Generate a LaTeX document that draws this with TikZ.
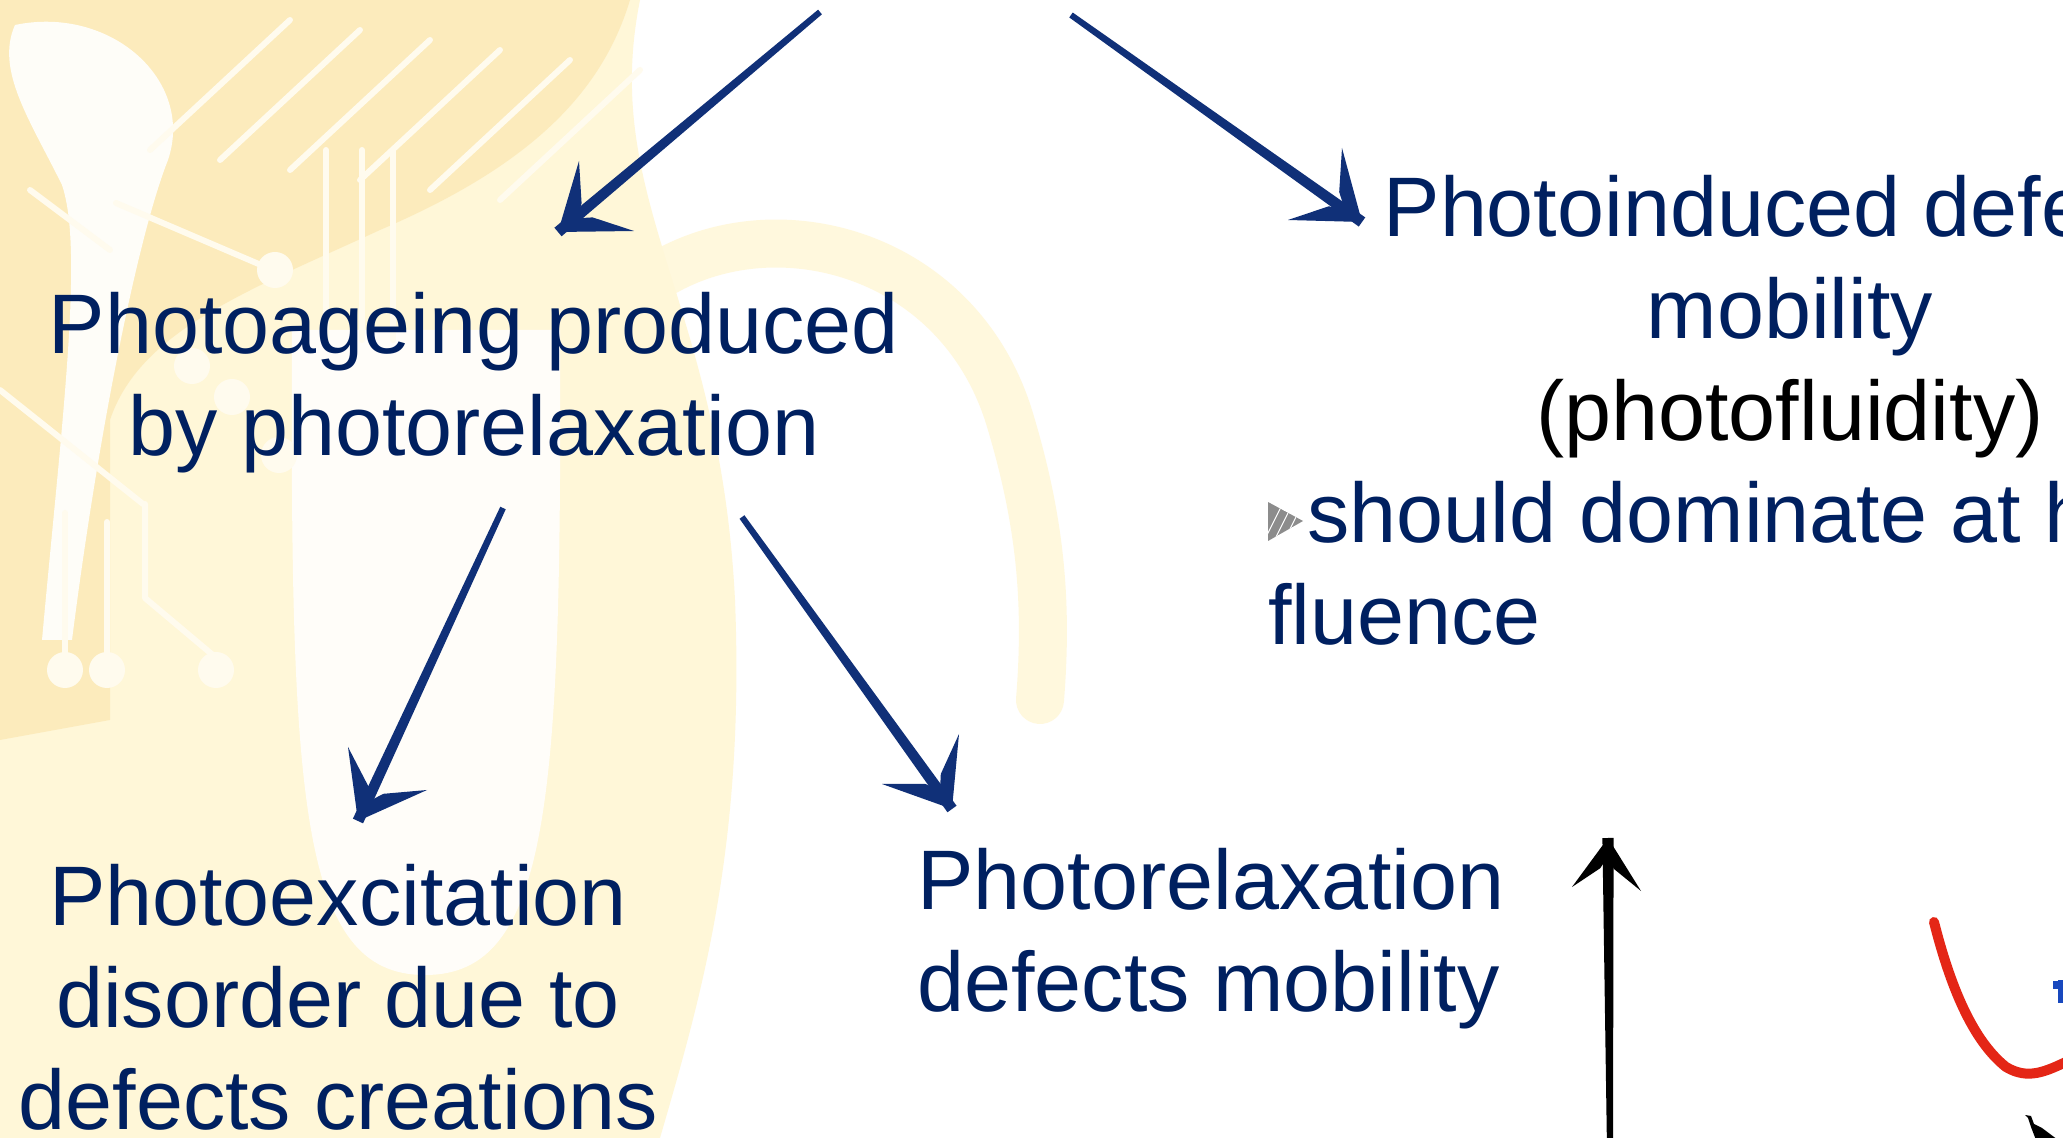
\documentclass[tikz,border=0pt]{standalone}
\usepackage{fontspec}
\setmainfont{Liberation Sans}
\usetikzlibrary{calc}

\definecolor{navy}{RGB}{0,32,96}
\definecolor{inkblue}{RGB}{16,48,120}
\definecolor{bgwarm}{RGB}{252,234,186}
\definecolor{bgpale}{RGB}{255,247,216}
\definecolor{trace}{RGB}{255,251,238}
\definecolor{bulletgray}{RGB}{140,140,140}
\definecolor{curvered}{RGB}{228,38,22}
\definecolor{markblue}{RGB}{24,72,190}

% hand-drawn style arrow: shaft start, tip, barb ends, colour
\newcommand{\inkarrow}[5]{%
  \coordinate (hm) at ($(#3)!0.5!(#4)$);
  \fill[#5] ($(#1)!1.5pt!90:(#2)$) -- ($(#2)!2.8pt!-90:(#1)$) -- ($(#2)!2.8pt!90:(#1)$)
            -- ($(#1)!1.5pt!-90:(#2)$) -- cycle;
  \fill[#5] (#2) -- (#3) -- ($(#2)!0.5!(#3)!0.2!(#4)$) -- ($(#2)!0.38!(hm)$)
            -- ($(#2)!0.5!(#4)!0.2!(#3)$) -- (#4) -- cycle;
}

\tikzset{
  lbl/.style={font=\fontsize{42.25pt}{51pt}\selectfont, text=navy, inner sep=0pt},
  tracepath/.style={draw=trace, line width=3pt, line cap=round, line join=round},
  tracedot/.style={fill=trace},
}

\begin{document}
\begin{tikzpicture}[x=0.5pt, y=-0.5pt]
\useasboundingbox (0,0) rectangle (2063,1138);
\clip (0,0) rectangle (2063,1138);
\fill[white] (0,0) rectangle (2063,1138);

% ---- decorative background ----
\fill[bgpale] (0,0) -- (640,0) .. controls (600,200) and (720,300) .. (735,600)
  .. controls (745,850) and (700,1000) .. (660,1138) -- (0,1138) -- cycle;
\draw[bgpale, line width=24pt, line cap=round, opacity=0.85]
  (600,330) .. controls (700,190) and (950,220) .. (1010,420)
  .. controls (1040,520) and (1048,600) .. (1040,700);
\fill[white, opacity=0.85] (292,330) .. controls (290,800) and (300,975) .. (425,975)
  .. controls (550,975) and (562,800) .. (560,330) -- cycle;
\fill[bgwarm, opacity=0.9] (0,0) -- (630,0) .. controls (600,100) and (520,170) .. (380,230)
  .. controls (250,290) and (140,330) .. (110,420) -- (110,720) -- (0,740) -- cycle;
\fill[white, opacity=0.9] (15,25) .. controls (110,5) and (195,80) .. (168,160)
  .. controls (140,230) and (100,420) .. (72,640) -- (42,640)
  .. controls (62,420) and (84,250) .. (62,185) .. controls (30,120) and (-5,70) .. (15,25);
% circuit traces
\foreach \i in {0,...,5}
  \draw[tracepath] ({150+70*\i},{150+10*\i}) -- ({290+70*\i},{20+10*\i});
\draw[tracepath] (30,190) -- (110,250);
\draw[tracepath] (116,203) -- (268,268);
\draw[tracepath] (0,390) -- (143,504);
\draw[tracepath] (65,513) -- (65,656);
\draw[tracepath] (107,522) -- (107,656);
\draw[tracepath] (145,504) -- (145,598) -- (214,656);
\draw[tracepath] (326,150) -- (326,340);
\draw[tracepath] (362,150) -- (362,340);
\draw[tracepath] (393,150) -- (393,340);
\foreach \p in {(275,270),(192,366),(232,397),(279,455),(65,670),(107,670),(216,670)}
  \fill[tracedot] \p circle (9pt);

% ---- texts (base anchor sits on the last line) ----
\node[lbl, align=center, anchor=base] (ageing) at (474,456)
  {Photoageing produced\\by photorelaxation};
\node[lbl, align=center, anchor=base] (excit) at (338,1129)
  {Photoexcitation\\disorder due to\\defects creations};
\node[lbl, align=left, anchor=base west] (relax) at (917,1011)
  {Photorelaxation\\defects mobility};
\node[lbl, align=center, anchor=base] (induced) at (1790,441)
  {Photoinduced defects\\mobility\\\textcolor{black}{(photofluidity)}};
\node[lbl, align=left, anchor=base west] (fluence) at (1268,645)
  {\hspace*{19.5pt}should dominate at high\\fluence};

% sketched bullet
\begin{scope}
  \clip (1268,502) -- (1303,521) -- (1268,541) -- cycle;
  \fill[bulletgray] (1268,502) -- (1303,521) -- (1268,541) -- cycle;
  \foreach \k in {0,...,3}
    \draw[white, line width=0.5pt] ({1262+10*\k},{545}) -- ({1282+10*\k},{505});
\end{scope}

% ---- arrows ----
\coordinate (a1s) at (820,12);   \coordinate (a1t) at (558,232);
\coordinate (a1b) at (579,161);  \coordinate (a1c) at (634,231);
\inkarrow{a1s}{a1t}{a1b}{a1c}{inkblue}

\coordinate (a2s) at (1071,15);  \coordinate (a2t) at (1362,222);
\coordinate (a2b) at (1342,148); \coordinate (a2c) at (1288,220);
\inkarrow{a2s}{a2t}{a2b}{a2c}{inkblue}

\coordinate (a3s) at (503,508);  \coordinate (a3t) at (358,821);
\coordinate (a3b) at (348,747);  \coordinate (a3c) at (427,790);
\inkarrow{a3s}{a3t}{a3b}{a3c}{inkblue}

\coordinate (a4s) at (742,517);  \coordinate (a4t) at (952,809);
\coordinate (a4b) at (959,734);  \coordinate (a4c) at (882,784);
\inkarrow{a4s}{a4t}{a4b}{a4c}{inkblue}

\coordinate (a5s) at (1610,1150); \coordinate (a5t) at (1608,838);
\coordinate (a5b) at (1572,887);  \coordinate (a5c) at (1641,891);
\inkarrow{a5s}{a5t}{a5b}{a5c}{black}

% red curve and marks at the right edge
\coordinate (r0) at (1934,922);
\coordinate (r1) at (2006,1067);
\coordinate (r2) at (2070,1060);
\draw[curvered, line width=5pt, line cap=round]
  (r0) .. controls (1950,985) and (1972,1040) .. (r1)
  .. controls (2028,1080) and (2045,1072) .. (r2);
\draw[markblue, line width=4pt] (2053,985) -- (2070,985);
\draw[markblue, line width=3pt] (2061,980) -- (2061,1003);
\fill[black] (2025,1115) -- (2031,1116) -- (2034,1124) -- (2042,1128) -- (2058,1140)
  -- (2036,1140) -- (2031,1127) -- (2028,1118) -- cycle;
\end{tikzpicture}
\end{document}
